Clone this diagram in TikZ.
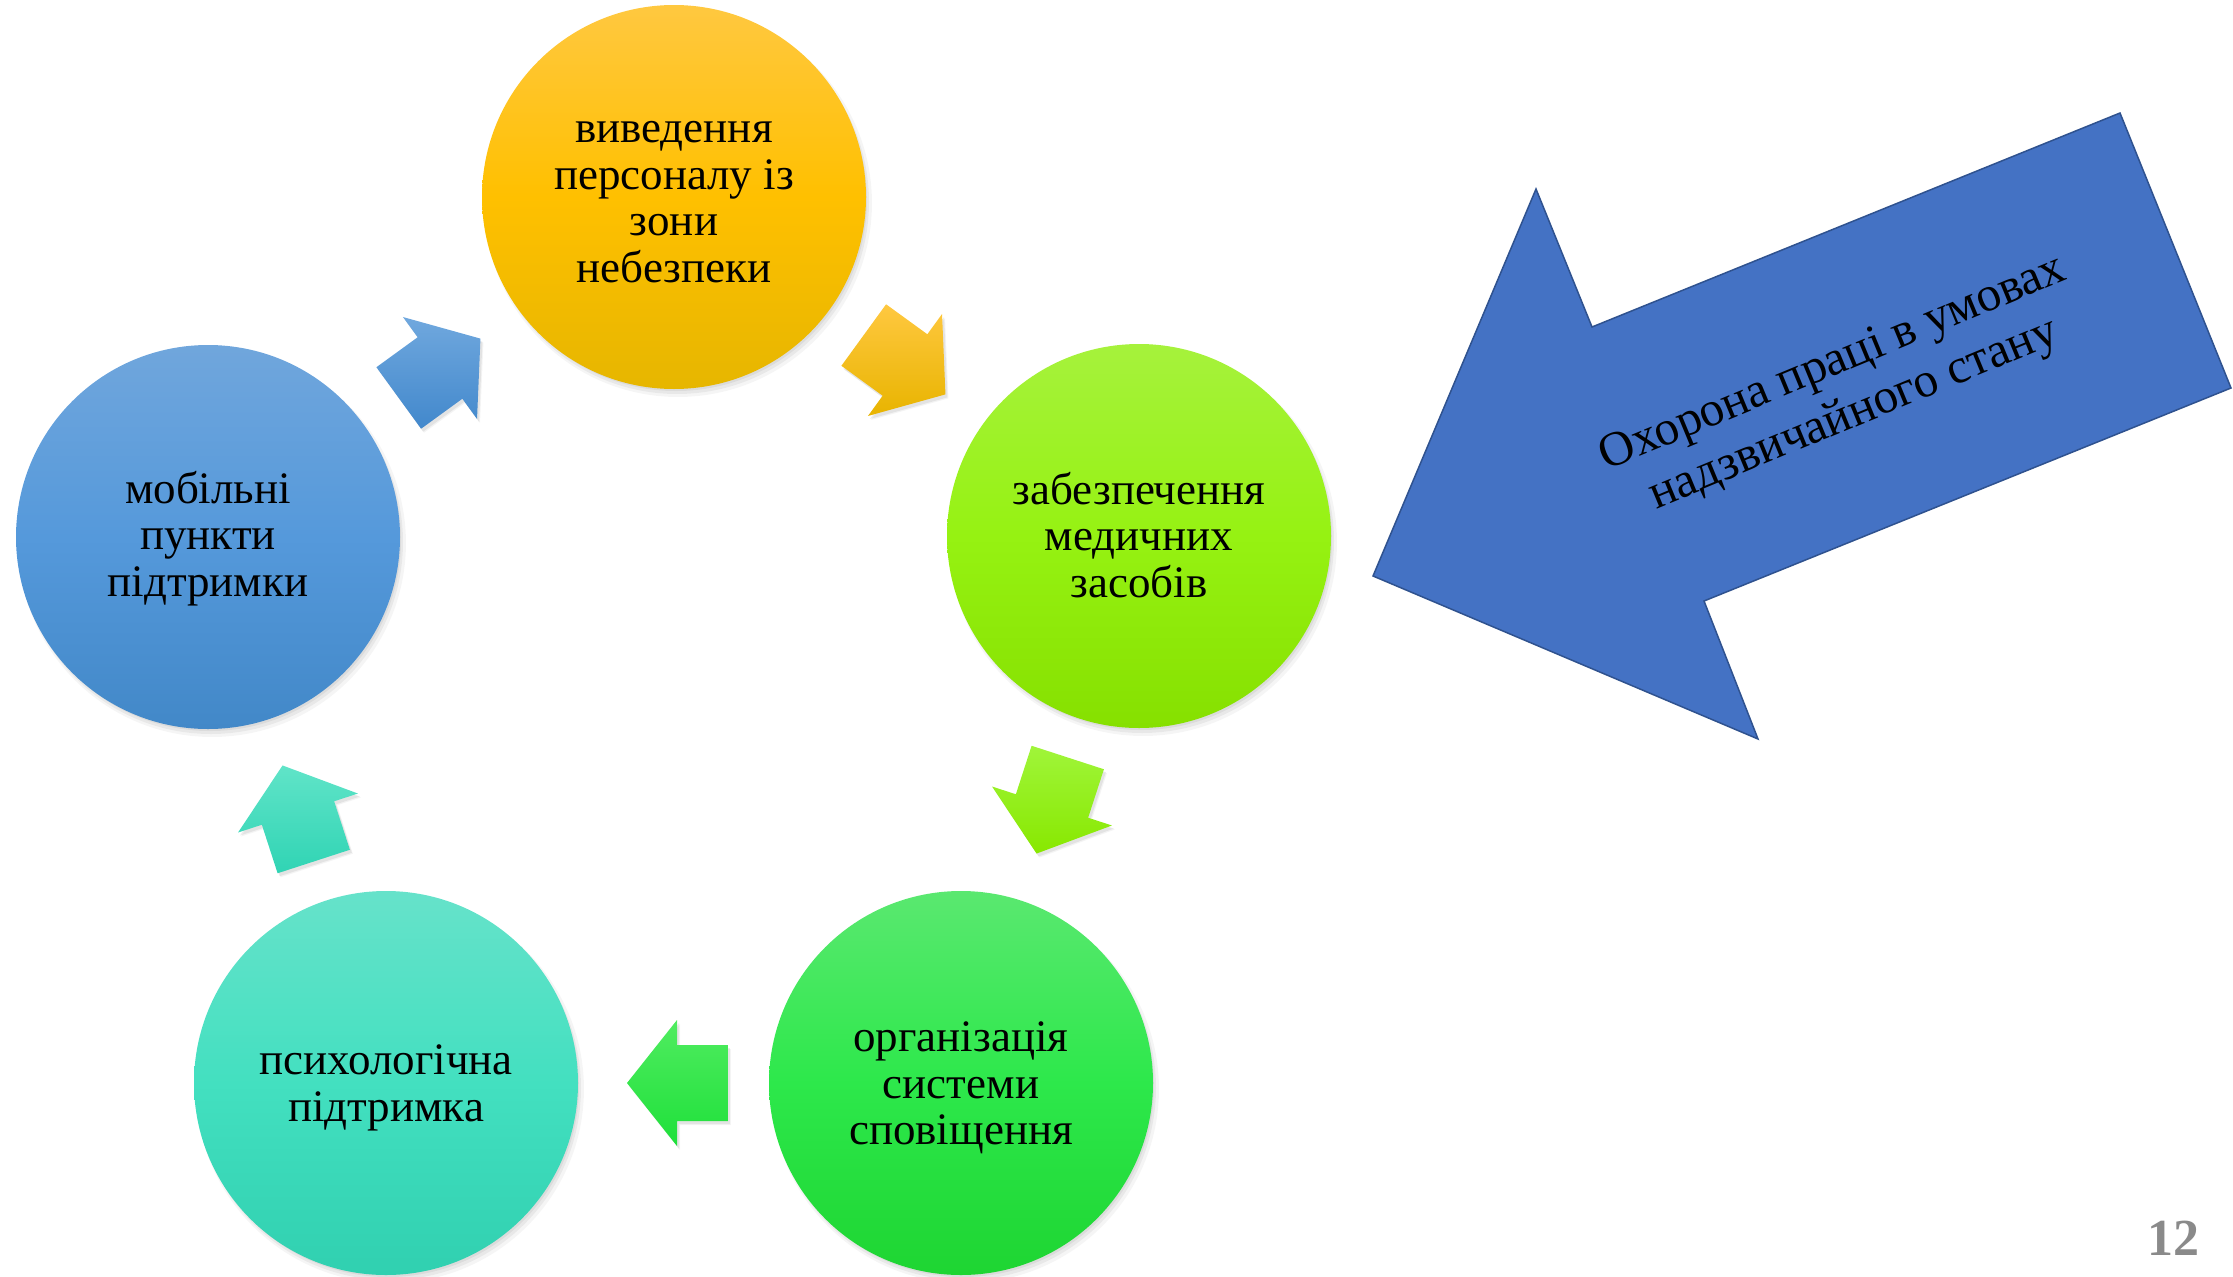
\documentclass[tikz,border=0pt]{standalone}
\usepackage{fontspec}
\setmainfont{Liberation Serif}
\usetikzlibrary{shadows}
\definecolor{bigblue}{HTML}{4472C4}
\definecolor{bigblueline}{HTML}{2F528F}
\definecolor{pagegray}{HTML}{8A8A8A}
\newcommand{\cyclearrow}[6]{%
  \coordinate (#1) at (#2,#3);
  \begin{scope}[shift={(#1)}]
    \path[smallarrow, top color=#5, bottom color=#6]
      (#4:50pt) -- ({#4+90}:63pt) -- ({#4+90}:38pt) -- ({#4+143.3}:63.6pt)
      -- ({#4+216.7}:63.6pt) -- ({#4+270}:38pt) -- ({#4+270}:63pt) -- cycle;
  \end{scope}}
\begin{document}
\begin{tikzpicture}[x=1pt,y=-1pt,
  softshadow/.style={
    drop shadow={shadow xshift=2pt, shadow yshift=-3pt, opacity=0.13, shadow scale=0.995},
    drop shadow={shadow xshift=3pt, shadow yshift=-5pt, opacity=0.11, shadow scale=1.0},
    drop shadow={shadow xshift=4pt, shadow yshift=-6pt, opacity=0.08, shadow scale=1.01}},
  bubble/.style={circle, minimum size=384pt, inner sep=0pt, softshadow},
  bubbletext/.style={align=center, font=\fontsize{45}{46.7}\selectfont, text=black, inner sep=0pt},
  smallarrow/.style={
    drop shadow={shadow xshift=2pt, shadow yshift=-3pt, opacity=0.14},
    drop shadow={shadow xshift=3pt, shadow yshift=-4pt, opacity=0.09}},
  bigarrow/.style={fill=bigblue, draw=bigblueline, line width=1.5pt, line join=miter}]
\useasboundingbox (0,0) rectangle (2233,1277);

% circles
\node[bubble, top color={rgb,255:red,255;green,200;blue,64}, bottom color={rgb,255:red,230;green,182;blue,0}, middle color={rgb,255:red,255;green,192;blue,0}] (evac) at (674,197) {};
\node[bubbletext] (evac-t) at ([yshift=-5pt]evac.center) {виведення\\персоналу із\\зони\\небезпеки};
\node[bubble, top color={rgb,255:red,166;green,242;blue,60}, bottom color={rgb,255:red,134;green,224;blue,0}, middle color={rgb,255:red,150;green,242;blue,18}] (med) at (1139,536) {};
\node[bubbletext] (med-t) at ([yshift=1pt]med.center) {забезпечення\\медичних\\засобів};
\node[bubble, top color={rgb,255:red,90;green,232;blue,112}, bottom color={rgb,255:red,30;green,213;blue,50}, middle color={rgb,255:red,45;green,232;blue,75}] (notif) at (961,1083) {};
\node[bubbletext] (notif-t) at ([yshift=-5pt]notif.center) {організація\\системи\\сповіщення};
\node[bubble, top color={rgb,255:red,102;green,226;blue,202}, bottom color={rgb,255:red,48;green,208;blue,176}, middle color={rgb,255:red,67;green,224;blue,192}] (psych) at (386,1083) {};
\node[bubbletext] (psych-t) at ([yshift=-5pt]psych.center) {психологічна\\підтримка};
\node[bubble, top color={rgb,255:red,112;green,166;blue,220}, bottom color={rgb,255:red,66;green,136;blue,200}, middle color={rgb,255:red,85;green,153;blue,219}] (mobile) at (208,537) {};
\node[bubbletext] (mobile-t) at ([yshift=-1.5pt]mobile.center) {мобільні\\пункти\\підтримки};

% small cycle arrows
\cyclearrow{a1}{440}{368}{36}{{rgb,255:red,112;green,168;blue,222}}{{rgb,255:red,66;green,136;blue,204}}
\cyclearrow{a2}{905}{365}{-36}{{rgb,255:red,255;green,200;blue,64}}{{rgb,255:red,232;green,180;blue,0}}
\cyclearrow{a3}{1052}{806}{-108}{{rgb,255:red,160;green,245;blue,58}}{{rgb,255:red,136;green,232;blue,0}}
\cyclearrow{a4}{677}{1083}{180}{{rgb,255:red,80;green,236;blue,96}}{{rgb,255:red,30;green,224;blue,58}}
\cyclearrow{a5}{298}{813}{108}{{rgb,255:red,96;green,228;blue,200}}{{rgb,255:red,48;green,212;blue,180}}

% big arrow
\coordinate (p1) at (1373,576);
\coordinate (p2) at (1536,189);
\coordinate (p3) at (1592,327);
\coordinate (p4) at (2120,113);
\coordinate (p5) at (2231,388);
\coordinate (p6) at (1704,601);
\coordinate (p7) at (1758,739);
\draw[bigarrow] (p1) -- (p2) -- (p3) -- (p4) -- (p5) -- (p6) -- (p7) -- cycle;
\node[rotate=22.5, align=center, font=\fontsize{49}{55}\selectfont] (bigtext) at (1844,390)
  {Охорона праці в умовах\\надзвичайного стану};

% page number
\node[font=\bfseries\fontsize{52}{52}\selectfont, text=pagegray] (pagenum) at (2173,1238) {12};
\end{tikzpicture}
\end{document}
